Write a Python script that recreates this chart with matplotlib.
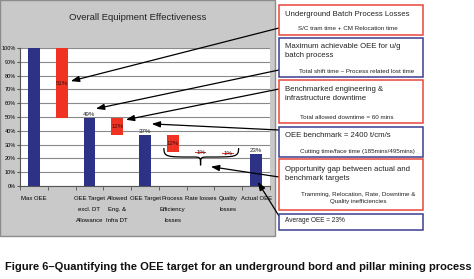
import matplotlib
matplotlib.use("Agg")
import matplotlib.pyplot as plt
from matplotlib.patches import Rectangle, PathPatch
from matplotlib.path import Path

# ==========================
# Data
# ==========================
categories = ["Max OEE", "", "OEE Target\nexcl. DT\nAllowance", "Allowed\nEng. &\nInfra DT",
              "OEE Target", "Process\nEfficiency\nlosses", "Rate losses", "Quality\nlosses",
              "Actual OEE"]
values = [100, 51, 49, 12, 37, 12, 1, 1, 23]
kinds = ["total", "loss", "total", "loss", "total", "loss", "loss", "loss", "total"]
bar_labels = ["", "51%", "49%", "12%", "37%", "12%", "1%", "1%", "23%"]
y_ticks = [0, 10, 20, 30, 40, 50, 60, 70, 80, 90, 100]

box_titles = [
    "Underground Batch Process Losses",
    "Maximum achievable OEE for u/g\nbatch process",
    "Benchmarked engineering &\ninfrastructure downtime",
    "OEE benchmark = 2400 t/cm/s",
    "Opportunity gap between actual and\nbenchmark targets",
    "Average OEE = 23%",
]
box_notes = [
    "S/C tram time + CM Relocation time",
    "Total shift time \u2013 Process related lost time",
    "Total allowed downtime = 60 mins",
    "Cutting time/face time (185mins/495mins)",
    "Tramming, Relocation, Rate, Downtime &\nQuality inefficiencies",
    "",
]

caption = "Figure 6\u2013Quantifying the OEE target for an underground bord and pillar mining process"

BLUE = "#2d3287"
RED = "#f03223"
SANS = ["Liberation Sans", "DejaVu Sans"]

W, H = 474, 279
fig = plt.figure(figsize=(W / 100, H / 100), dpi=100)


def fx(px):
    return px / W


def fy(py):
    return 1 - py / H


# grey chart panel
fig.add_artist(Rectangle((0, fy(236)), fx(275), 1 - fy(236), transform=fig.transFigure,
                         facecolor="#c9c9c9", edgecolor="#8c8c8c", lw=1.0, zorder=0))

ax = fig.add_axes([fx(20), fy(186), fx(270) - fx(20), fy(48) - fy(186)])
ax.set_facecolor("white")

# waterfall bars
level = 0
bottoms = []
for v, k in zip(values, kinds):
    if k == "total":
        bottoms.append(0)
        level = v
    else:
        level = level - v
        bottoms.append(level)

xs = list(range(len(categories)))
colors = [BLUE if k == "total" else RED for k in kinds]
ax.bar(xs, values, bottom=bottoms, width=0.42, color=colors, zorder=3)

for x, v, b, k, lab in zip(xs, values, bottoms, kinds, bar_labels):
    if not lab:
        continue
    if k == "total":
        ax.text(x, b + v + 1, lab, ha="center", va="bottom", fontsize=4.4,
                family=SANS, color="#222222", zorder=4)
    else:
        ax.text(x, b + v / 2, lab, ha="center", va="center", fontsize=4.4,
                family=SANS, color="#331111", zorder=4)

ax.set_xlim(-0.5, len(categories) - 0.5)
ax.set_ylim(0, 100)
ax.set_yticks(y_ticks)
ax.set_yticklabels([f"{t}%" for t in y_ticks], family=SANS, fontsize=4.0)
ax.yaxis.grid(True, color="#8a8a8a", lw=0.8, zorder=0)
ax.set_axisbelow(True)

ax.set_xticks(xs)
ax.set_xticklabels(categories, family=SANS, fontsize=4.3, linespacing=2.5, va="top")
ax.tick_params(axis="x", length=0, pad=7)
ax.set_xticks([x - 0.5 for x in xs] + [len(xs) - 0.5], minor=True)
ax.tick_params(axis="x", which="minor", length=3, color="#555555")
ax.tick_params(axis="y", length=2, color="#555555", pad=1)

for s in ["top", "right"]:
    ax.spines[s].set_visible(False)
ax.spines["left"].set_color("#555555")
ax.spines["bottom"].set_color("#555555")

fig.text(fx(138), fy(17), "Overall Equipment Effectiveness", ha="center", va="center",
         fontsize=6.8, family=SANS, color="#222222")

# brace under process / rate / quality losses
bx0, bx1, bxm = 4.68, 7.37, 6.0
yt, ym, yb = 27.5, 21.0, 15.0
verts = [(bx0, yt), (bx0, ym), (bx0 + 0.1, ym), (bxm - 0.3, ym),
         (bxm, ym), (bxm, ym), (bxm, yb),
         (bxm, ym), (bxm, ym), (bxm + 0.3, ym),
         (bx1 - 0.1, ym), (bx1, ym), (bx1, yt)]
codes = [Path.MOVETO, Path.CURVE4, Path.CURVE4, Path.LINETO,
         Path.CURVE4, Path.CURVE4, Path.CURVE4,
         Path.CURVE4, Path.CURVE4, Path.CURVE4,
         Path.CURVE4, Path.CURVE4, Path.CURVE4]
ax.add_patch(PathPatch(Path(verts, codes), facecolor="none", edgecolor="black", lw=0.9,
                       zorder=5, clip_on=False))

# annotation boxes on the right
box_tops = [5, 38, 80, 127, 159, 214]
box_bottoms = [35, 77, 123, 157, 210, 230]
box_colors = ["#e8453c", "#3a3d8f", "#e8453c", "#3a3d8f", "#e8453c", "#3a3d8f"]
title_y = [14, 46, 89, 136, 169, 221]
note_y = [28, 71, 117, 151, 198, 0]
note_x = [348, 357, 347, 357, 358, 0]

for t, b, c, tt, nt, ty, ny, nx in zip(box_tops, box_bottoms, box_colors, box_titles,
                                       box_notes, title_y, note_y, note_x):
    fig.add_artist(Rectangle((fx(279), fy(b)), fx(423) - fx(279), fy(t) - fy(b),
                             transform=fig.transFigure, facecolor="white",
                             edgecolor=c, lw=1.1))
    size = 5.6 if nt else 4.7
    first_y = ty if "\n" not in tt else ty + 5
    fig.text(fx(285), fy(first_y), tt, ha="left", va="center", fontsize=size,
             family=SANS, linespacing=1.35, color="#222222")
    if nt:
        fig.text(fx(nx), fy(ny), nt, ha="center", va="center", fontsize=4.5,
                 family=SANS, linespacing=1.4, color="#222222")

# arrows from boxes to the chart
arrow_starts = [(279, 28), (279, 70), (279, 89), (279, 130), (279, 177), (279, 216)]
arrow_targets = [(1.33, 76), (2.23, 56), (3.31, 48), (4.24, 45), (6.37, 14), (8.06, 3)]
for (sx, sy), (tx, ty) in zip(arrow_starts, arrow_targets):
    ax.annotate("", xy=(tx, ty), xycoords="data", xytext=(fx(sx), fy(sy)),
                textcoords="figure fraction", annotation_clip=False,
                arrowprops=dict(arrowstyle="-|>,head_length=0.5,head_width=0.18",
                                color="black", lw=0.9, shrinkA=0, shrinkB=0),
                zorder=6)

fig.text(fx(5), fy(267), caption, ha="left", va="center", fontsize=8.0,
         fontweight="bold", family=SANS, color="#111111")

fig.savefig("out.png", dpi=100)
